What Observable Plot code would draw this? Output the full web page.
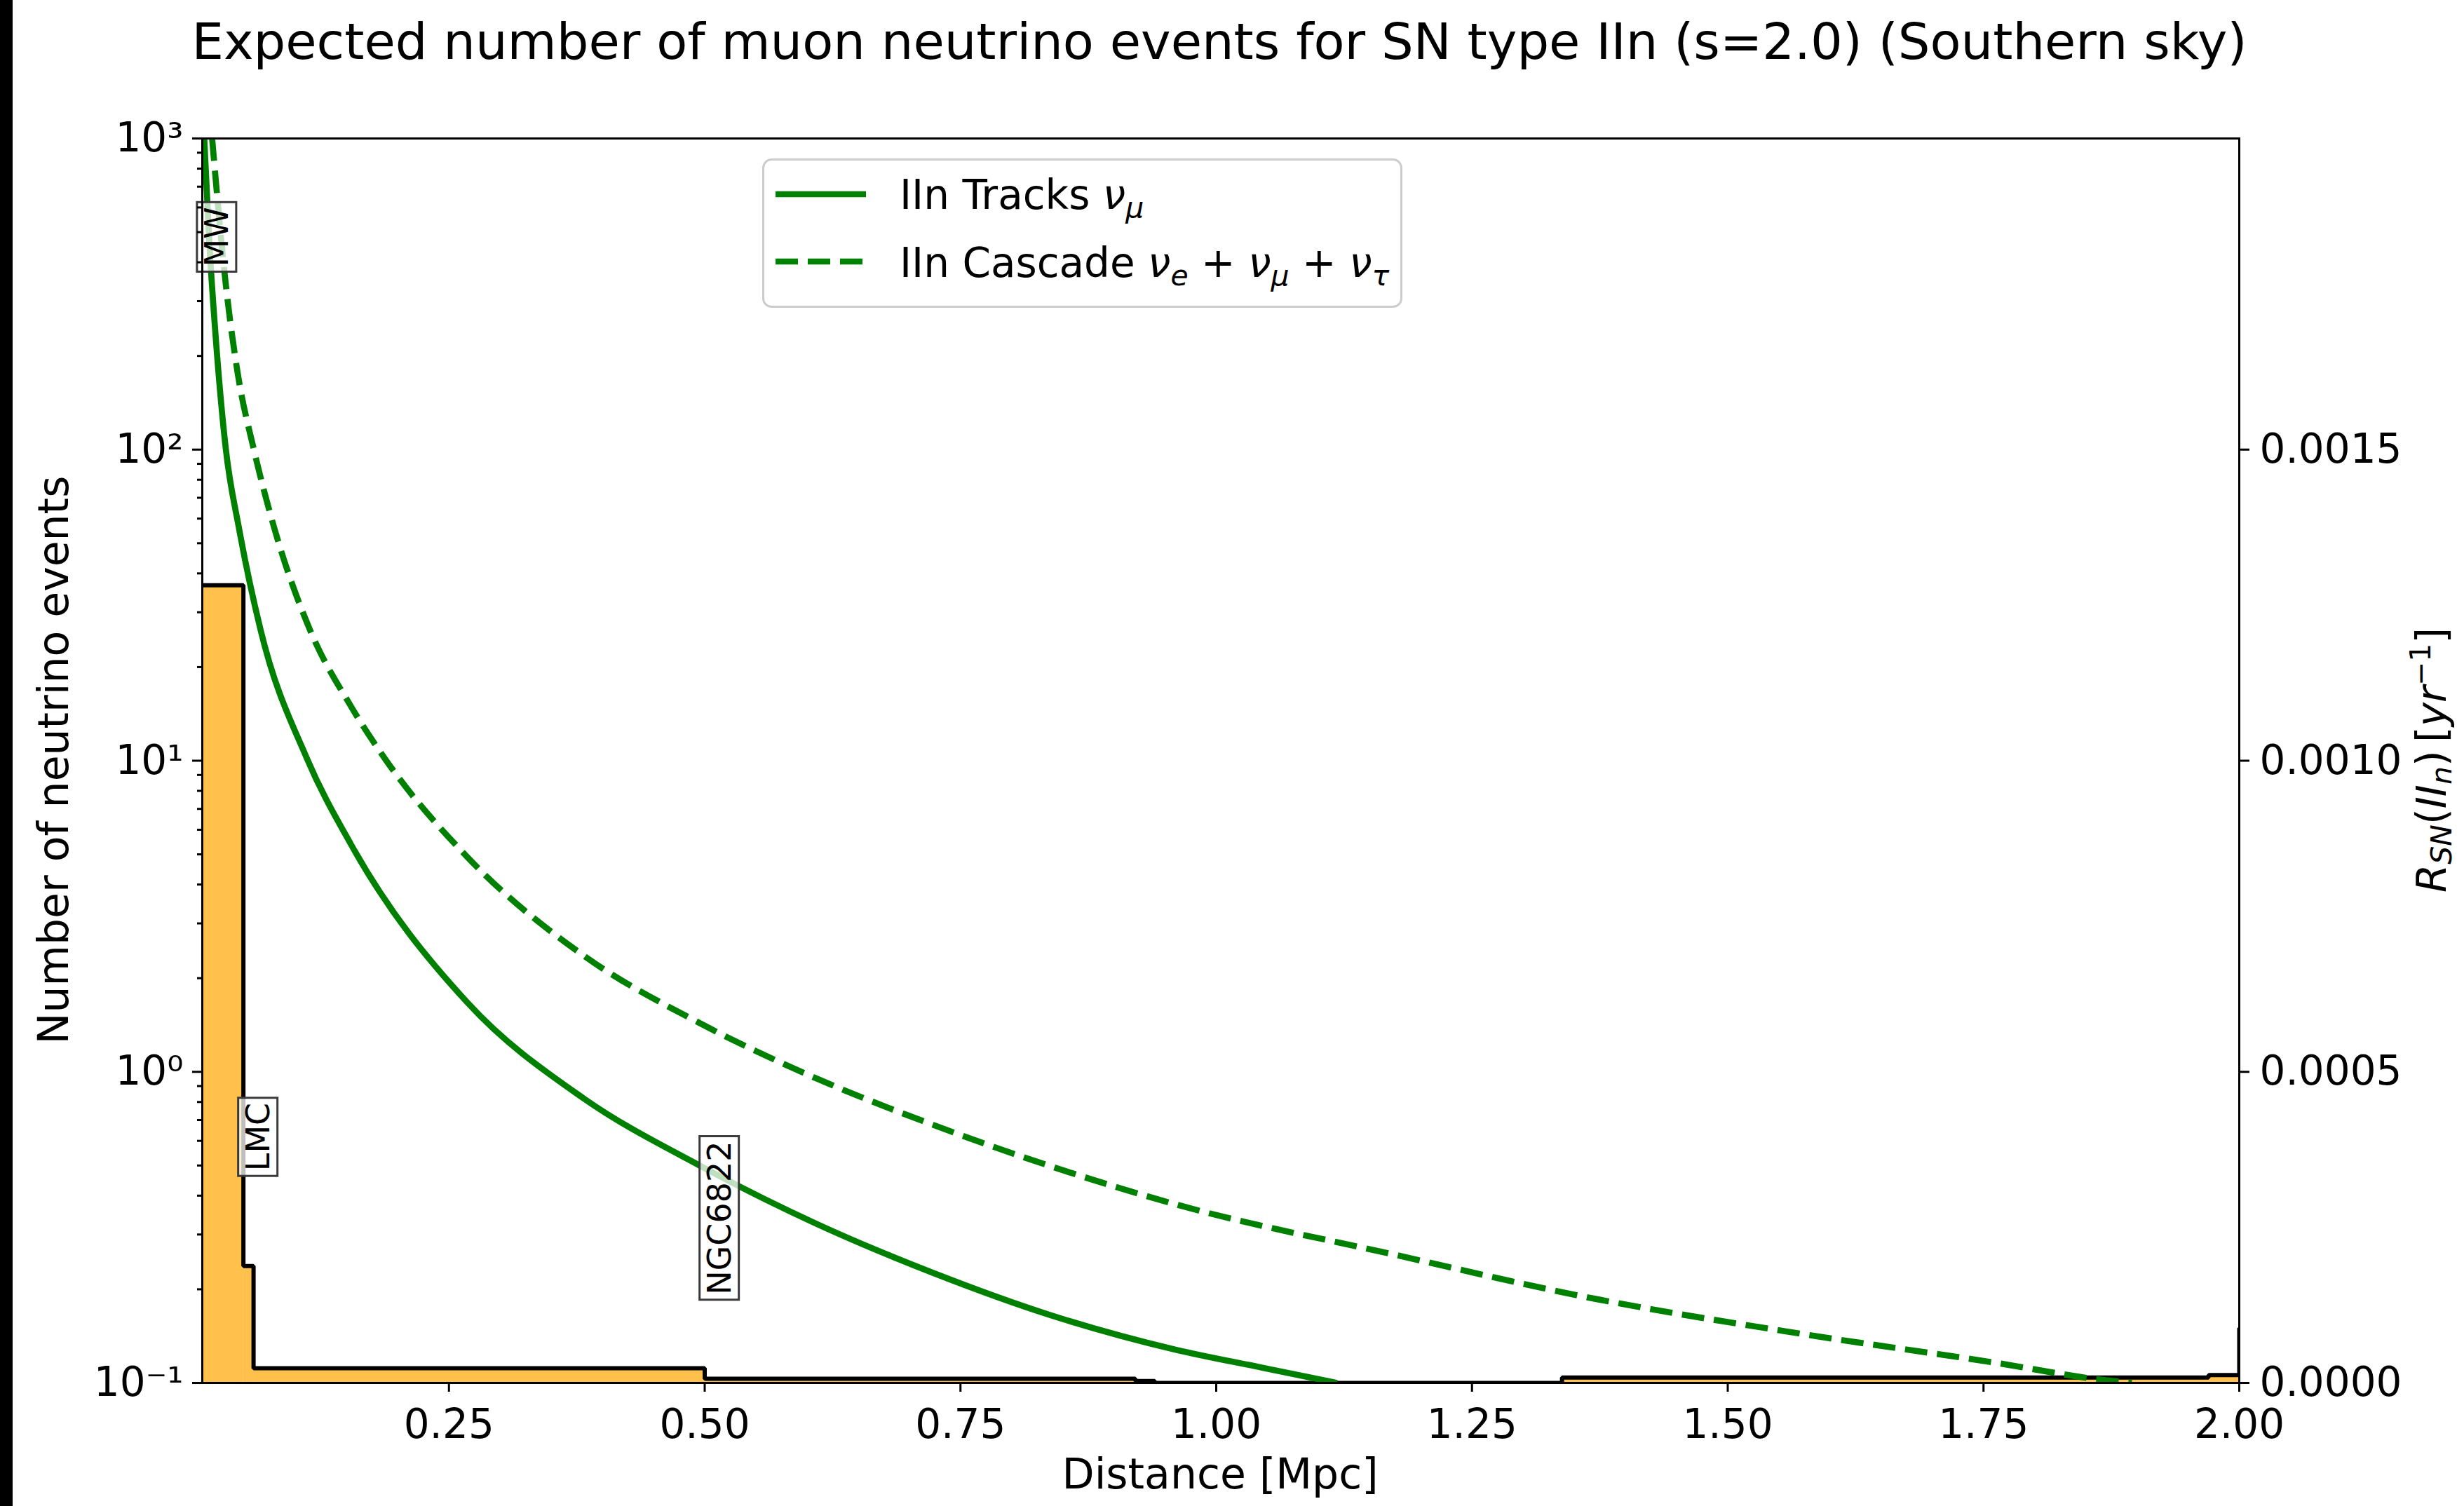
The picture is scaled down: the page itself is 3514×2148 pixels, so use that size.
<!DOCTYPE html>
<html>
<head>
<meta charset="utf-8">
<script src="https://cdn.jsdelivr.net/npm/d3@7"></script>
<script src="https://cdn.jsdelivr.net/npm/@observablehq/plot@0.6"></script>
<style>
  html, body { margin: 0; padding: 0; background: #fff; }
  #page { position: relative; width: 3514px; height: 2148px; overflow: hidden; font-family: "DejaVu Sans", sans-serif; background: #fff; }
  #edge { position: absolute; left: 0; top: 0; width: 18px; height: 2148px; background: #000; }
  #title { position: absolute; left: 0; width: 3478px; top: 23px; text-align: center; font-size: 72px; line-height: 72px; white-space: nowrap; color: #000; }
  #plot { position: absolute; left: 0; top: 130px; }
  #legend { position: absolute; left: 1087px; top: 226px; overflow: visible; }
</style>
</head>
<body>
<div id="page">
  <div id="title">Expected number of muon neutrino events for SN type IIn (s=2.0) (Southern sky)</div>
  <div id="plot"></div>
  <svg id="legend" width="913" height="213"></svg>
  <div id="edge"></div>
</div>
<script>
// ---- Axis ticks -------------------------------------------------------
const distanceTicks = [0.25, 0.5, 0.75, 1.0, 1.25, 1.5, 1.75, 2.0];
const countTicks = [0.1, 1, 10, 100, 1000];
const countTickLabels = ["10\u207B\u00B9", "10\u2070", "10\u00B9", "10\u00B2", "10\u00B3"];
const rateTicks = [0, 0.0005, 0.0010, 0.0015];

// ---- Expected events vs distance (left, log axis) ----------------------
const trackDistance = [0.0108, 0.0160, 0.0213, 0.0318, 0.0449, 0.0658, 0.111, 0.154, 0.268, 0.382, 0.495, 0.609, 0.723, 0.836, 0.960, 1.045, 1.118];
const trackEvents   = [1000, 448, 247, 101, 55.6, 26.4, 10.2, 5.4, 1.67, 0.82, 0.50, 0.325, 0.226, 0.166, 0.128, 0.112, 0.100];

const cascadeDistance = [0.0185, 0.0322, 0.0440, 0.0590, 0.0795, 0.1140, 0.154, 0.187, 0.268, 0.382, 0.495, 0.609, 0.723, 0.836, 0.963, 1.174, 1.370, 1.567, 1.764, 1.862, 1.895];
const cascadeEvents   = [1000, 332, 172, 101, 55.6, 26.4, 15.0, 10.2, 4.9, 2.36, 1.435, 0.953, 0.676, 0.50, 0.373, 0.2585, 0.1865, 0.1447, 0.1158, 0.1027, 0.100];

// ---- SN IIn rate histogram (right, linear axis) ------------------------
const binStart = [0.0, 0.0491, 0.059, 0.50, 0.921, 0.94, 1.338, 1.970, 2.0];
const binEnd   = [0.0491, 0.059, 0.50, 0.921, 0.94, 1.338, 1.970, 2.0, 2.1];
const binRate  = [0.001282, 0.000188, 0.0000237, 0.0000068, 0.000003, 0.0, 0.0000088, 0.0000126, 0.000088];

// ---- Galaxy annotations -------------------------------------------------
const galaxyNames    = ["MW", "LMC", "NGC6822"];
const galaxyDistance = [0.0087, 0.049, 0.5];
const galaxyLabelAt  = [387, 0.48, 0.192];

// Twin axis: the rate axis [0, 0.002] shares the plot height with the
// event axis [0.1, 1000], so rates are placed on the log scale through
// a linear map onto its exponent.
const rateToExponent = d3.scaleLinear([0, 0.002], [-1, 3]);
const rateToCount = (r) => Math.pow(10, rateToExponent(r));
const countToRate = (c) => rateToExponent.invert(Math.log10(c));

const tracks = trackDistance.map((x, i) => ({x, y: trackEvents[i]}));
const cascade = cascadeDistance.map((x, i) => ({x, y: cascadeEvents[i]}));
const bins = binStart.map((s, i) => ({start: s, end: binEnd[i], rate: binRate[i]}));
const outline = bins.map((b) => ({x: b.start, rate: b.rate}))
  .concat([{x: bins[bins.length - 1].end, rate: bins[bins.length - 1].rate}]);
const galaxies = galaxyNames.map((name, i) => ({name, x: galaxyDistance[i], y: galaxyLabelAt[i]}));

const minorTicks = [];
for (const decade of [0.1, 1, 10, 100]) for (let k = 2; k <= 9; k++) minorTicks.push(decade * k);

const chart = Plot.plot({
  width: 3514,
  height: 2018,
  marginTop: 67,
  marginBottom: 176,
  marginLeft: 288,
  marginRight: 321,
  style: {fontFamily: "DejaVu Sans", fontSize: "58px", background: "transparent", color: "black", overflow: "visible"},
  x: {domain: [0.0089, 2.0]},
  y: {type: "log", domain: [0.1, 1000]},
  marks: [
    Plot.rect(bins, {x1: "start", x2: "end", y1: () => rateToCount(0), y2: (d) => rateToCount(d.rate), fill: "orange", fillOpacity: 0.7, clip: true}),
    Plot.line(outline, {x: "x", y: (d) => rateToCount(d.rate), curve: "step-after", stroke: "black", strokeWidth: 6, strokeLinejoin: "miter", strokeLinecap: "butt", clip: true}),
    Plot.line(tracks, {x: "x", y: "y", curve: "monotone-x", stroke: "green", strokeWidth: 8.7, strokeLinecap: "butt", clip: true}),
    Plot.line(cascade, {x: "x", y: "y", curve: "monotone-x", stroke: "green", strokeWidth: 8.7, strokeDasharray: "32,14", strokeLinecap: "butt", clip: true}),
    Plot.text(galaxies, {x: "x", y: "y", text: "name", rotate: -90, textAnchor: "start", lineAnchor: "top", fontSize: 46, dx: 4, fill: "black"}),
    Plot.axisX(distanceTicks, {tickSize: 13, tickPadding: 24, tickFormat: d3.format(".2f"), strokeWidth: 3, label: null}),
    Plot.axisY(countTicks, {anchor: "left", tickSize: 14, tickPadding: 13, tickFormat: (d) => countTickLabels[countTicks.indexOf(d)], strokeWidth: 3, label: null}),
    Plot.axisY(minorTicks, {anchor: "left", tickSize: 7, tickFormat: () => "", strokeWidth: 3, label: null}),
    Plot.axisY(rateTicks.map(rateToCount), {anchor: "right", tickSize: 14, tickPadding: 15, tickFormat: (d) => d3.format(".4f")(Math.abs(countToRate(d)) < 1e-12 ? 0 : countToRate(d)), strokeWidth: 3, label: null}),
    Plot.frame({stroke: "black", strokeWidth: 3})
  ]
});
document.getElementById("plot").appendChild(chart);

const svg = d3.select(chart);

// Boxes behind the galaxy names
svg.selectAll("text")
  .filter(function () { return galaxyNames.includes(this.textContent); })
  .each(function () {
    const bb = this.getBBox();
    const r = document.createElementNS("http://www.w3.org/2000/svg", "rect");
    r.setAttribute("x", bb.x - 7);
    r.setAttribute("y", bb.y - 1);
    r.setAttribute("width", bb.width + 14);
    r.setAttribute("height", bb.height + 2);
    const t = this.getAttribute("transform");
    if (t) r.setAttribute("transform", t);
    r.setAttribute("fill", "white");
    r.setAttribute("fill-opacity", "0.75");
    r.setAttribute("stroke", "#3a3a3a");
    r.setAttribute("stroke-width", "3");
    this.parentNode.insertBefore(r, this);
  });

// Axis titles
svg.append("text")
  .attr("x", 1740).attr("y", 1993)
  .attr("text-anchor", "middle").attr("font-size", 60).attr("fill", "black")
  .text("Distance [Mpc]");
svg.append("text")
  .attr("transform", "translate(97,954) rotate(-90)")
  .attr("text-anchor", "middle").attr("font-size", 60).attr("fill", "black")
  .text("Number of neutrino events");

const rightLabel = svg.append("text")
  .attr("transform", "translate(3488,954) rotate(-90)")
  .attr("text-anchor", "middle").attr("font-size", 58).attr("fill", "black");
const parts = [
  {t: "R", it: true},
  {t: "SN", it: true, sub: true},
  {t: "(", it: false},
  {t: "II", it: true},
  {t: "n", it: true, sub: true},
  {t: ")\u2009[", it: false},
  {t: "yr", it: true},
  {t: "\u22121", it: false, sup: true},
  {t: "]", it: false}
];
let shift = 0;
for (const p of parts) {
  const target = p.sub ? 8 : p.sup ? -22 : 0;
  rightLabel.append("tspan")
    .attr("dy", target - shift)
    .attr("font-style", p.it ? "italic" : "normal")
    .attr("font-size", p.sub || p.sup ? 41 : 58)
    .text(p.t);
  shift = target;
}

// Legend
const legend = d3.select("#legend");
legend.append("rect")
  .attr("x", 1.5).attr("y", 1.5).attr("width", 910).attr("height", 210).attr("rx", 12)
  .attr("fill", "white").attr("fill-opacity", 0.8).attr("stroke", "#cccccc").attr("stroke-width", 3);
legend.append("line").attr("x1", 19).attr("x2", 148).attr("y1", 51).attr("y2", 51)
  .attr("stroke", "green").attr("stroke-width", 8.7);
legend.append("line").attr("x1", 19).attr("x2", 148).attr("y1", 147).attr("y2", 147)
  .attr("stroke", "green").attr("stroke-width", 8.7).attr("stroke-dasharray", "32,14");

function mathLabel(y, pieces) {
  const t = legend.append("text").attr("x", 196).attr("y", y)
    .attr("font-family", "DejaVu Sans").attr("font-size", 58).attr("fill", "black");
  let s = 0;
  for (const p of pieces) {
    const target = p.sub ? 12 : 0;
    t.append("tspan").attr("dy", target - s)
      .attr("font-style", p.it ? "italic" : "normal")
      .attr("font-size", p.sub ? 41 : 58)
      .text(p.t);
    s = target;
  }
}
mathLabel(72, [{t: "IIn Tracks "}, {t: "\u03BD", it: true}, {t: "\u03BC", it: true, sub: true}]);
mathLabel(169, [
  {t: "IIn Cascade "}, {t: "\u03BD", it: true}, {t: "e", it: true, sub: true},
  {t: " + "}, {t: "\u03BD", it: true}, {t: "\u03BC", it: true, sub: true},
  {t: " + "}, {t: "\u03BD", it: true}, {t: "\u03C4", it: true, sub: true}
]);
</script>
</body>
</html>
